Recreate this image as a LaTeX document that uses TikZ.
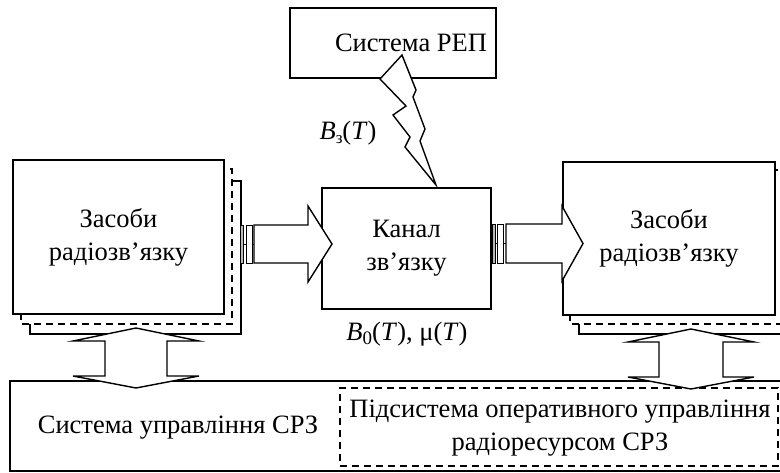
\documentclass[tikz,border=0pt]{standalone}
\usepackage{fontspec}
\setmainfont{Liberation Serif}
\begin{document}
\begin{tikzpicture}[x=1pt,y=-1pt, line join=miter,
  every node/.style={font=\fontsize{26.5}{33}\selectfont, inner sep=0pt},
  frame/.style={draw, line width=1.4pt, fill=white},
  dframe/.style={draw, line width=1.4pt, fill=white, dash pattern=on 7pt off 5pt},
  blockarrow/.style={draw, line width=1.4pt, fill=white},
  plug/.style={draw, line width=0.9pt},
  lbl/.style={font=\fontsize{26.5}{33}\selectfont}
]
\useasboundingbox (0,0) rectangle (780,472);
\begin{scope}
\clip (0,0) rectangle (780,472);
% bottom system of control
\node[frame, minimum width=780pt, minimum height=90pt] (sys) at (400,426) {};
\node[dframe, minimum width=438pt, minimum height=78pt] (sub) at (559,427) {};
\node (sysT) at (178,428) {Система управління СРЗ};
\node[align=center] (subT) at (560,428) {Підсистема оперативного управління\\радіоресурсом СРЗ};
% left stack
\draw[frame] (30,181) rectangle (241,334);
\draw[dframe] (21,169) rectangle (232,324);
\node[frame, minimum width=211pt, minimum height=154pt, align=center] (srcL) at (118.5,237) {Засоби\\радіозв’язку};
% right stack
\draw[frame] (579,181) rectangle (790,334);
\draw[dframe] (570,170) rectangle (784,324);
\node[frame, minimum width=212pt, minimum height=153pt, align=center] (srcR) at (669,238.5) {Засоби\\радіозв’язку};
% channel
\node[frame, minimum width=169pt, minimum height=121pt, align=center] (chan) at (406.5,248.5) {Канал\\зв’язку};
\node (b0) at (407,334) {\textit{B}\raisebox{-0.3ex}{\fontsize{19}{19}\selectfont 0}(\textit{T}), μ(\textit{T})};
% REP system
\node[frame, minimum width=206pt, minimum height=70pt] (rep) at (393,43) {};
\node (repT) at (411,43) {Система РЕП};
\node (bz) at (348,133) {\textit{B}\raisebox{-0.3ex}{\fontsize{17}{17}\selectfont з}(\textit{T})};
% lightning
\draw[blockarrow] (402,55) -- (380,79) -- (406,106) -- (393,115) -- (410,137) -- (405,147) -- (436,185)
  -- (420,141) -- (425,129) -- (413,97) -- (416,90) -- cycle;
% horizontal block arrows
\draw[plug, fill=gray!55] (240,225) rectangle (243.5,263);
\draw[plug] (243.5,244) -- (254,244);
\draw[plug, fill=white] (246,225) rectangle (252,263);
\draw[blockarrow] (254,225) -- (308,225) -- (308,206) -- (332,244) -- (308,282) -- (308,263) -- (254,263) -- cycle;
\draw[plug, fill=gray!55] (492,224) rectangle (495,263);
\draw[plug] (495,243.5) -- (506,243.5);
\draw[plug, fill=white] (497,224) rectangle (503,263);
\draw[blockarrow] (506,224) -- (562,224) -- (562,206) -- (583,243.5) -- (562,281) -- (562,263) -- (506,263) -- cycle;
% vertical double arrows
\draw[blockarrow] (136,328) -- (199,341) -- (167,341) -- (167,376) -- (199,376) -- (136,388) -- (73,376) -- (105,376) -- (105,341) -- (73,341) -- cycle;
\draw[blockarrow] (691,329) -- (754,342) -- (723,342) -- (723,377) -- (754,377) -- (691,389) -- (628,377) -- (659,377) -- (659,342) -- (628,342) -- cycle;
\end{scope}
\end{tikzpicture}
\end{document}
